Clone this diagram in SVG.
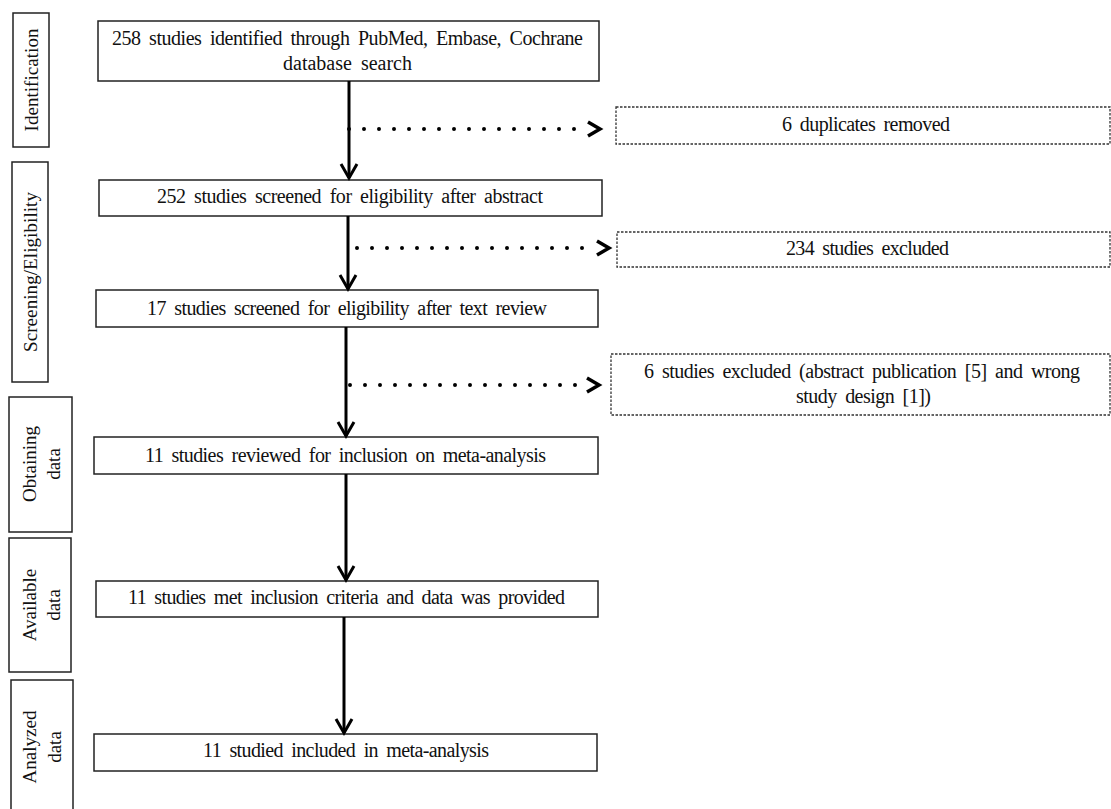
<svg xmlns="http://www.w3.org/2000/svg" width="1111" height="809" viewBox="0 0 1111 809">
<style>
text{font-family:"Liberation Serif","Times New Roman",serif;font-size:20px;fill:#111;text-anchor:middle;word-spacing:4px}
.lab{font-size:19px;word-spacing:0}
.box{fill:#fff;stroke:#222;stroke-width:1.5}
.dbox{fill:#fff;stroke:#333;stroke-width:1.3;stroke-dasharray:2.5 1.5}
.stage{fill:#fff;stroke:#222;stroke-width:1.5}
.flow{fill:none;stroke:#000;stroke-width:3;marker-end:url(#head)}
.dots{fill:none;stroke:#000;stroke-width:4;stroke-linecap:round;stroke-dasharray:0 15}
.chev{fill:none;stroke:#000;stroke-width:3.5;stroke-linejoin:miter}
</style>
<defs>
<marker id="head" markerUnits="userSpaceOnUse" markerWidth="24" markerHeight="24" viewBox="-18 -12 24 24" refX="0" refY="0" orient="auto" overflow="visible">
<path d="M-14,-8 L0,0 L-14,8" fill="none" stroke="#000" stroke-width="3"/>
</marker>
</defs>
<rect width="1111" height="809" fill="#fff"/>

<g id="stage-identification">
<rect class="stage" x="13" y="13" width="36" height="134"/>
<text class="lab" transform="translate(38,80) rotate(-90)" textLength="103">Identification</text>
</g>
<g id="stage-screening">
<rect class="stage" x="12" y="162" width="36" height="220"/>
<text class="lab" transform="translate(37,272) rotate(-90)" textLength="160">Screening/Eligibility</text>
</g>
<g id="stage-obtaining">
<rect class="stage" x="9" y="397" width="63" height="135"/>
<text class="lab" transform="translate(36,464) rotate(-90)">Obtaining</text>
<text class="lab" transform="translate(60,464) rotate(-90)">data</text>
</g>
<g id="stage-available">
<rect class="stage" x="9" y="538" width="62" height="134"/>
<text class="lab" transform="translate(36,605) rotate(-90)">Available</text>
<text class="lab" transform="translate(60,605) rotate(-90)">data</text>
</g>
<g id="stage-analyzed">
<rect class="stage" x="11" y="680" width="62" height="136"/>
<text class="lab" transform="translate(36,747) rotate(-90)">Analyzed</text>
<text class="lab" transform="translate(61,747) rotate(-90)">data</text>
</g>

<g id="n1">
<rect class="box" x="98" y="21" width="501" height="60"/>
<text x="347.5" y="45" textLength="471">258 studies identified through PubMed, Embase, Cochrane</text>
<text x="347.5" y="70" textLength="129">database search</text>
</g>
<g id="n2">
<rect class="box" x="99" y="180" width="503" height="36"/>
<text x="350" y="203" textLength="386">252 studies screened for eligibility after abstract</text>
</g>
<g id="n3">
<rect class="box" x="96" y="290" width="502" height="37"/>
<text x="347" y="315" textLength="400">17 studies screened for eligibility after text review</text>
</g>
<g id="n4">
<rect class="box" x="94" y="437" width="504" height="37"/>
<text x="345.5" y="462" textLength="401">11 studies reviewed for inclusion on meta-analysis</text>
</g>
<g id="n5">
<rect class="box" x="96" y="581" width="502" height="36"/>
<text x="346.5" y="604" textLength="437">11 studies met inclusion criteria and data was provided</text>
</g>
<g id="n6">
<rect class="box" x="94" y="734" width="503" height="37"/>
<text x="346" y="757" textLength="286">11 studied included in meta-analysis</text>
</g>

<g id="x1">
<rect class="dbox" x="616" y="107" width="494" height="37"/>
<text x="866" y="131" textLength="168">6 duplicates removed</text>
</g>
<g id="x2">
<rect class="dbox" x="617" y="232" width="493" height="35"/>
<text x="867.5" y="255" textLength="163">234 studies excluded</text>
</g>
<g id="x3">
<rect class="dbox" x="611" y="354" width="499" height="61"/>
<text x="862" y="378" textLength="436">6 studies excluded (abstract publication [5] and wrong</text>
<text x="863.5" y="403" textLength="135">study design [1])</text>
</g>

<g id="connectors">
<path class="flow" d="M349,81 V178"/>
<path class="flow" d="M348,216 V289"/>
<path class="flow" d="M346,327 V436"/>
<path class="flow" d="M346,474 V580"/>
<path class="flow" d="M344,617 V733"/>
<path class="dots" d="M349,129 H586"/>
<path class="chev" d="M588,122 L600,129 L588,136"/>
<path class="dots" d="M357,248 H594"/>
<path class="chev" d="M597,241 L609,248 L597,255"/>
<path class="dots" d="M350,385 H586"/>
<path class="chev" d="M587,378 L599,385 L587,392"/>
</g>
</svg>
